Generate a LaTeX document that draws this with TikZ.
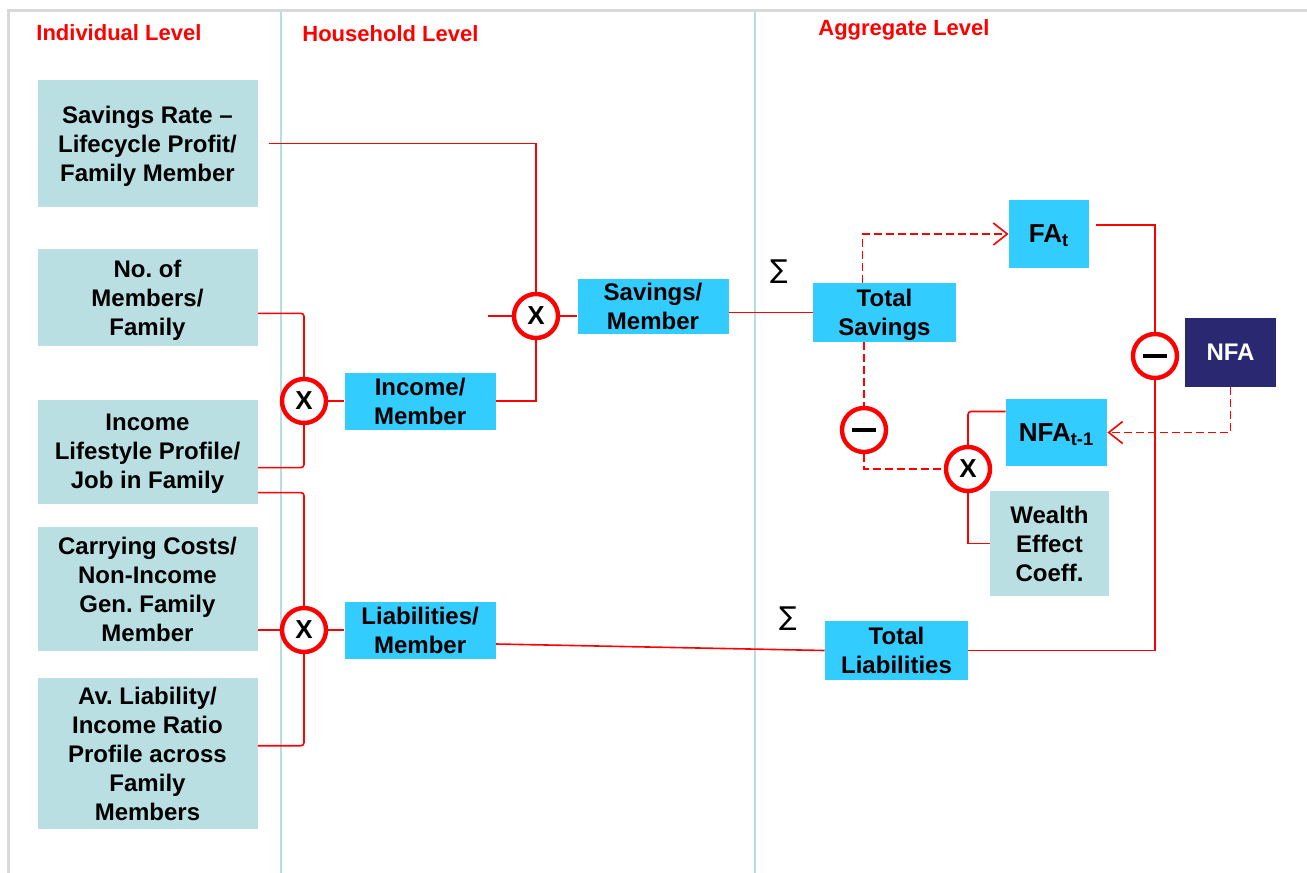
\documentclass[tikz,border=0pt]{standalone}
\usepackage{fontspec}
\setmainfont{Liberation Sans}
\newfontfamily\sumfont{DejaVu Sans}
\usepackage{tikz}
\usetikzlibrary{arrows.meta, positioning}
\definecolor{levelred}{RGB}{255,0,0}
\definecolor{inputteal}{RGB}{185,223,226}
\definecolor{flowcyan}{RGB}{51,204,255}
\definecolor{nfanavy}{RGB}{41,40,112}
\definecolor{dividerblue}{RGB}{183,221,224}
\definecolor{framegray}{RGB}{217,217,217}

\begin{document}
\begin{tikzpicture}[
    x=0.5pt, y=-0.5pt,
    inputnode/.style={rectangle, fill=inputteal, minimum width=110pt, align=center, inner sep=0pt, text depth=-7pt, font=\bfseries\fontsize{12}{14.5}\selectfont},
    flownode/.style={rectangle, fill=flowcyan, minimum width=75.5pt, minimum height=28.5pt, align=center, inner sep=0pt, text depth=-7pt, font=\bfseries\fontsize{12}{14.5}\selectfont},
    opnode/.style={circle, draw=levelred, line width=2.2pt, fill=white, minimum size=22pt, inner sep=0pt, font=\bfseries\fontsize{13}{13}\selectfont},
    levellabel/.style={anchor=west, inner sep=0pt, text=levelred, font=\bfseries\fontsize{11}{13}\selectfont},
    sumlabel/.style={font=\sumfont\fontsize{13}{13}\selectfont},
    link/.style={draw=levelred, line width=0.8pt},
    dashlink/.style={link, dash pattern=on 4pt off 2pt},
    arrow/.style={dashlink, -{Straight Barb[length=7pt, width=11pt]}}
]

\useasboundingbox (0,0) rectangle (1307,873);
\draw[framegray, line width=1.5pt] (8,873) -- (8,10) -- (1307,10);
\draw[dividerblue, line width=1pt] (281,12) -- (281,873);
\draw[dividerblue, line width=1pt] (755,12) -- (755,873);

\node[levellabel] (indlvl) at (36,33) {Individual Level};
\node[levellabel] (hhlvl) at (302,34) {Household Level};
\node[levellabel] (agglvl) at (818,30) {Aggregate Level};

\node[inputnode, minimum height=63.5pt] (savrate) at (147.5,143.5) {Savings Rate –\\Lifecycle Profit/\\Family Member};
\node[inputnode, minimum height=48.5pt, below=20.5pt of savrate] (members) {No.\ of\\Members/\\Family};
\node[inputnode, minimum height=52pt, below=26.5pt of members] (incprof) {Income\\Lifestyle Profile/\\Job in Family};
\node[inputnode, minimum height=62pt, below=11.5pt of incprof] (carrying) {Carrying Costs/\\Non-Income\\Gen.\ Family\\Member};
\node[inputnode, minimum height=75.5pt, below=13pt of carrying] (avliab) {Av.\ Liability/\\Income Ratio\\Profile across\\Family\\Members};

\node[opnode] (mulinc) at (304,401) {X};
\node[opnode] (mulliab) at (304,630) {X};
\node[opnode] (mulsav) at (536,316) {X};
\node[flownode, right=8pt of mulinc] (incmem) {Income/\\Member};
\node[flownode, right=8pt of mulliab] (liabmem) {Liabilities/\\Member};
\node[flownode, minimum height=27.5pt] (savmem) at (653,306.5) {Savings/\\Member};

\node[flownode, minimum width=71.5pt, minimum height=29.5pt] (tsav) at (884.5,312.5) {Total\\Savings};
\node[flownode, minimum width=71.5pt, minimum height=29.5pt] (tliab) at (896.5,650.5) {Total\\Liabilities};
\node[sumlabel] (sumsav) at (779,272) {∑};
\node[sumlabel] (sumliab) at (788,619) {∑};

\node[flownode, minimum width=40pt, minimum height=34pt, font=\bfseries\fontsize{13}{14.5}\selectfont] (fat) at (1049,234) {FA\textsubscript{t}};
\node[flownode, minimum width=50.5pt, minimum height=33.5pt, font=\bfseries\fontsize{13}{14.5}\selectfont] (nfaprev) at (1056.5,432.5) {NFA\textsubscript{t-1}};
\node[inputnode, minimum width=59.5pt, minimum height=52.5pt] (wealth) at (1049.5,543.5) {Wealth\\Effect\\Coeff.};
\node[rectangle, fill=nfanavy, text=white, minimum width=45.5pt, minimum height=34.5pt, font=\bfseries\fontsize{12}{14.5}\selectfont] (nfa) at (1230.5,352.5) {NFA};

\node[opnode] (negsav) at (864,430) {\rule{12pt}{2pt}};
\node[opnode] (mulwealth) at (968,469) {X};
\node[opnode] (negnfa) at (1155,356) {\rule{12pt}{2pt}};

\draw[link] ([xshift=5.5pt]savrate.east) -| (mulsav);
\draw[link, rounded corners=1.5pt] ([yshift=-8pt]members.east) -| (mulinc);
\draw[link, rounded corners=1.5pt] ([yshift=-8pt]incprof.east) -| (mulinc);
\draw[link, rounded corners=1.5pt] ([yshift=-20.5pt]incprof.east) -| (mulliab);
\draw[link] (carrying.east |- mulliab) -- (mulliab);
\draw[link, rounded corners=1.5pt] ([yshift=4pt]avliab.east) -| (mulliab);
\draw[link] (mulinc) -- (incmem);
\draw[link] (mulliab) -- (liabmem);
\draw[link] (incmem.east) -| (mulsav);
\coordinate (savstub) at (488,316);
\draw[link] (savstub) -- (mulsav);
\draw[link] (mulsav) -- (mulsav -| savmem.west);
\draw[link] (savmem.east |- tsav) -- (tsav);
\draw[link] ([yshift=-7pt]liabmem.east) -- (tliab.west);
\draw[link] (tliab.east) -| (negnfa);
\draw[link] (negnfa) |- ([xshift=3.5pt,yshift=4.5pt]fat.east);
\draw[arrow] ([xshift=-11pt]tsav.north) |- (fat.west);
\draw[dashlink] (negsav |- tsav.south) -- (negsav);
\draw[dashlink] (negsav) |- (mulwealth);
\draw[link, rounded corners=1.5pt] (mulwealth) |- ([yshift=10.5pt]nfaprev.west);
\draw[link] (mulwealth) |- (wealth.west);
\draw[arrow] (nfa.south) |- (nfaprev.east);

\end{tikzpicture}
\end{document}
